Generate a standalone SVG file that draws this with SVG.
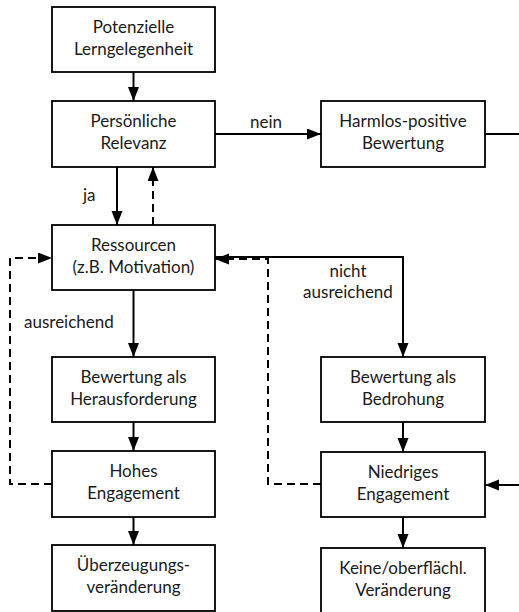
<svg xmlns="http://www.w3.org/2000/svg" width="519" height="612" viewBox="0 0 519 612">
  <style>
    .box { fill: #ffffff; stroke: #000000; stroke-width: 1.8; }
    .lbl { font-family: Lato, "Open Sans", "Liberation Sans", sans-serif; font-size: 17px; fill: #1a1a1a; text-anchor: middle; }
    .note { font-family: Lato, "Open Sans", "Liberation Sans", sans-serif; font-size: 17px; fill: #1a1a1a; }
    .solid { fill: none; stroke: #000000; stroke-width: 2; }
    .dash { fill: none; stroke: #000000; stroke-width: 2; stroke-dasharray: 8 5; }
  </style>
  <defs>
    <marker id="head" markerUnits="userSpaceOnUse" markerWidth="15" markerHeight="12" refX="14" refY="5.5" orient="auto">
      <path d="M0,0 L14,5.5 L0,11 Z" fill="#000000" stroke="none"/>
    </marker>
  </defs>
  <rect width="519" height="612" fill="#ffffff"/>

  <!-- connectors -->
  <g id="connectors">
    <line class="solid" x1="133.5" y1="72" x2="133.5" y2="101" marker-end="url(#head)"/>
    <line class="solid" x1="117" y1="167" x2="117" y2="225" marker-end="url(#head)"/>
    <line class="dash" x1="153" y1="225" x2="153" y2="167" marker-end="url(#head)"/>
    <line class="solid" x1="215" y1="134" x2="321" y2="134" marker-end="url(#head)"/>
    <line class="solid" x1="485" y1="134" x2="519" y2="134"/>
    <line class="solid" x1="133.5" y1="290" x2="133.5" y2="357" marker-end="url(#head)"/>
    <polyline class="solid" points="215,257 403,257 403,357" marker-end="url(#head)"/>
    <polyline class="dash" points="321,484 268,484 268,259 215,259" marker-end="url(#head)"/>
    <polyline class="dash" points="52,484 10,484 10,258 52,258" marker-end="url(#head)"/>
    <line class="solid" x1="133.5" y1="422" x2="133.5" y2="451" marker-end="url(#head)"/>
    <line class="solid" x1="133.5" y1="517" x2="133.5" y2="545" marker-end="url(#head)"/>
    <line class="solid" x1="403" y1="422" x2="403" y2="452" marker-end="url(#head)"/>
    <line class="solid" x1="403" y1="517" x2="403" y2="548" marker-end="url(#head)"/>
    <line class="solid" x1="519" y1="485" x2="485" y2="485" marker-end="url(#head)"/>
    <text class="note" x="83" y="201">ja</text>
    <text class="note" x="250" y="128">nein</text>
    <text class="note" x="24" y="328">ausreichend</text>
    <text class="lbl" x="348" y="277">nicht</text>
    <text class="lbl" x="348" y="298">ausreichend</text>
  </g>

  <!-- nodes -->
  <g id="potenzielle">
    <rect class="box" x="52" y="7" width="163" height="65"/>
    <text class="lbl" x="133.5" y="33">Potenzielle</text>
    <text class="lbl" x="133.5" y="55">Lerngelegenheit</text>
  </g>
  <g id="relevanz">
    <rect class="box" x="52" y="101" width="163" height="66"/>
    <text class="lbl" x="133.5" y="127">Persönliche</text>
    <text class="lbl" x="133.5" y="149">Relevanz</text>
  </g>
  <g id="harmlos">
    <rect class="box" x="321" y="101" width="164" height="66"/>
    <text class="lbl" x="403" y="127">Harmlos-positive</text>
    <text class="lbl" x="403" y="149">Bewertung</text>
  </g>
  <g id="ressourcen">
    <rect class="box" x="52" y="225" width="163" height="65"/>
    <text class="lbl" x="133.5" y="251">Ressourcen</text>
    <text class="lbl" x="133.5" y="273">(z.B. Motivation)</text>
  </g>
  <g id="herausforderung">
    <rect class="box" x="52" y="357" width="163" height="65"/>
    <text class="lbl" x="133.5" y="383">Bewertung als</text>
    <text class="lbl" x="133.5" y="405">Herausforderung</text>
  </g>
  <g id="bedrohung">
    <rect class="box" x="321" y="357" width="164" height="65"/>
    <text class="lbl" x="403" y="383">Bewertung als</text>
    <text class="lbl" x="403" y="405">Bedrohung</text>
  </g>
  <g id="hohes">
    <rect class="box" x="52" y="451" width="163" height="66"/>
    <text class="lbl" x="133.5" y="477">Hohes</text>
    <text class="lbl" x="133.5" y="499">Engagement</text>
  </g>
  <g id="niedriges">
    <rect class="box" x="321" y="452" width="164" height="65"/>
    <text class="lbl" x="403" y="478">Niedriges</text>
    <text class="lbl" x="403" y="500">Engagement</text>
  </g>
  <g id="ueberzeugung">
    <rect class="box" x="52" y="545" width="163" height="66"/>
    <text class="lbl" x="133.5" y="571">Überzeugungs-</text>
    <text class="lbl" x="133.5" y="593">veränderung</text>
  </g>
  <g id="keine">
    <rect class="box" x="321" y="548" width="164" height="68"/>
    <text class="lbl" x="403" y="574">Keine/oberflächl.</text>
    <text class="lbl" x="403" y="596">Veränderung</text>
  </g>
</svg>
